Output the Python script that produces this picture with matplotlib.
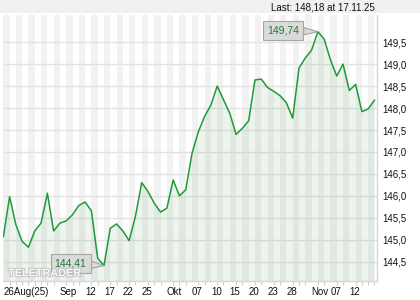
import matplotlib
matplotlib.use("Agg")
import matplotlib.pyplot as plt
import matplotlib.patheffects as pe
from matplotlib.patches import Rectangle
import numpy as np

plt.rcParams['font.family'] = ['Liberation Sans', 'DejaVu Sans']

# ---- data -------------------------------------------------------------
prices = [145.07, 145.98, 145.34, 144.96, 144.83, 145.20, 145.38, 146.06, 145.20, 145.38,
          145.43, 145.57, 145.78, 145.86, 145.66, 144.58, 144.41, 145.26, 145.36, 145.20,
          144.98, 145.53, 146.30, 146.10, 145.83, 145.63, 145.72, 146.36, 146.00, 146.14,
          146.97, 147.46, 147.81, 148.07, 148.50, 148.19, 147.88, 147.40, 147.54, 147.71,
          148.64, 148.66, 148.47, 148.38, 148.28, 148.12, 147.77, 148.91, 149.14, 149.32,
          149.74, 149.57, 149.10, 148.73, 149.00, 148.40, 148.54, 147.92, 147.98, 148.18]
tick_labels = ["26Aug(25)", "Sep", "12", "17", "22", "25", "Okt", "07", "10",
               "15", "20", "23", "28", "Nov", "07", "12"]
tick_index = [0, 9, 13, 16, 19, 22, 26, 30, 33, 36, 39, 42, 45, 49, 52, 55]
y_ticks = [144.5, 145.0, 145.5, 146.0, 146.5, 147.0, 147.5, 148.0, 148.5, 149.0, 149.5]
last_date = "17.11.25"

def de(v, nd):
    return f"{v:.{nd}f}".replace('.', ',')

x = np.arange(len(prices))

fig = plt.figure(figsize=(4.2, 3.0), dpi=100)
fig.patch.set_facecolor('white')
fig.patches.append(Rectangle((0, 0.957), 1, 0.043, transform=fig.transFigure,
                             facecolor='#f1f1f1', edgecolor='none', zorder=0))
fig.text(375 / 420, 1 - 7.5 / 300, f"Last: {de(prices[-1], 2)} at {last_date}",
         ha='right', va='center', fontsize=7, color='#111111')

ax = fig.add_axes([3 / 420, 19 / 300, 374 / 420, 266 / 300])
ax.set_xlim(-0.05, 59.4)
ax.set_ylim(144.06, 150.12)

# alternating day stripes
for i in range(0, len(prices), 2):
    ax.axvspan(i, i + 1, facecolor='#f2f2f2', edgecolor='none', zorder=0)

ax.set_axisbelow(True)
ax.yaxis.grid(True, color='#e2e2e2', lw=1)
ax.xaxis.grid(False)

ax.fill_between(x, prices, 144.06, color='#2e8b3e', alpha=0.09, lw=0, zorder=2)
ax.plot(x, prices, color='#1f9a3a', lw=1.1, zorder=3)

# high / low callouts
box = dict(boxstyle='square,pad=0.4', fc='#dadada', ec='#a5a5a5', lw=0.8)
arrow = dict(arrowstyle='wedge,tail_width=0.7', fc='#dadada', ec='#a5a5a5', lw=0.8,
             shrinkA=0, shrinkB=0)
imax = int(np.argmax(prices))
imin = int(np.argmin(prices))
ax.annotate(de(prices[imax], 2), xy=(imax, prices[imax]), xytext=(-25, 0.8),
            textcoords='offset points', ha='center', va='center', fontsize=7.5,
            color='#1e7a35', bbox=box, arrowprops=arrow, zorder=5)
ax.annotate(de(prices[imin], 2), xy=(imin, prices[imin]), xytext=(-24, 1.6),
            textcoords='offset points', ha='center', va='center', fontsize=7.5,
            color='#1e7a35', bbox=box, arrowprops=arrow, zorder=5)

# watermark (drawn over the callout, as in the reference)
ax.text(0.014, 0.018, "TELETRADER", transform=ax.transAxes, fontsize=7.8,
        fontweight='bold', color='white', alpha=0.9, zorder=6,
        path_effects=[pe.withStroke(linewidth=1.3, foreground='#bdbdbd')])

# axes styling
for s in ['top', 'left']:
    ax.spines[s].set_visible(False)
for s in ['right', 'bottom']:
    ax.spines[s].set_color('#d6d6d6')
    ax.spines[s].set_linewidth(1)

ax.yaxis.tick_right()
ax.set_yticks(y_ticks, [de(v, 1) for v in y_ticks])
ax.tick_params(axis='y', length=0, pad=3.8, labelsize=7, labelcolor='#111111')

ax.set_xticks(tick_index, tick_labels)
ax.set_xticks(x, minor=True)
ax.tick_params(axis='x', which='major', length=0, pad=4, labelsize=7, labelcolor='#111111')
ax.tick_params(axis='x', which='minor', length=3, color='#cfcfcf', width=0.8)
for lab in ax.get_xticklabels():
    lab.set_ha('left')

fig.savefig('out.png', dpi=100)
